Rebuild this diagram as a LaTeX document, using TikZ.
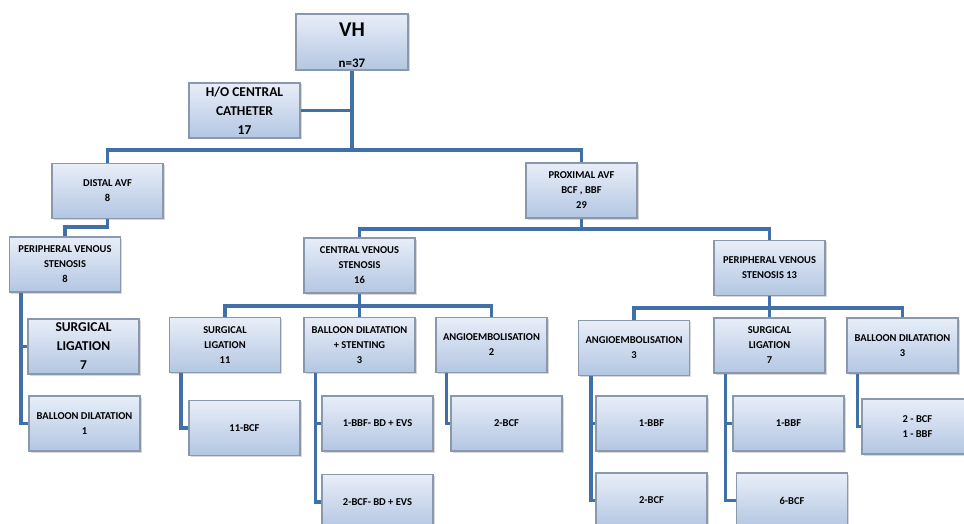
\documentclass[tikz,border=0pt]{standalone}
\usepackage{fontspec}
\setmainfont{Carlito}
\usepackage{tikz}
\usetikzlibrary{calc, shadows}

\definecolor{linkblue}{HTML}{4170A8}
\definecolor{boxtop}{HTML}{E8EEF8}
\definecolor{boxbottom}{HTML}{B3C6E2}
\definecolor{boxedge}{HTML}{8A98AC}

\begin{document}
\begin{tikzpicture}[x=1pt, y=-1pt,
  box/.style={draw=boxedge, line width=1.2pt, top color=boxtop, bottom color=boxbottom,
    minimum width=111pt, minimum height=55pt, inner sep=2pt, align=center,
    font=\fontsize{10.5}{15}\selectfont\bfseries, text=black,
    drop shadow={opacity=0.3, shadow xshift=1.5pt, shadow yshift=-1.5pt}},
  bigbox/.style={box, font=\fontsize{13.5}{19}\selectfont\bfseries},
  boxtext/.style={inner sep=0pt, text=black},
  link/.style={draw=linkblue, line width=3.5pt}]

  \fill[white] (0,0) rectangle (964,524);
  \clip (0,0) rectangle (964,524);

  % top of the tree
  \node[box, minimum width=112pt, minimum height=56pt] (vh) at (352,42) {};
  \node[boxtext, font=\fontsize{21}{24}\selectfont\bfseries] (vhname) at (352,30) {VH};
  \node[boxtext, font=\fontsize{13}{15}\selectfont\bfseries] (vhcount) at (352,63) {n=37};
  \node[bigbox] (cath) at (244.5,110.5) {H/O CENTRAL\\CATHETER\\17};

  \node[box] (distal) at (107.5,191) {DISTAL AVF\\8};
  \node[box] (prox) at (581.5,190.5) {PROXIMAL AVF\\BCF , BBF\\29};

  \node[box] (pvs8) at (65,264.5) {PERIPHERAL VENOUS\\STENOSIS\\8};
  \node[box] (cvs) at (359.5,265.5) {CENTRAL VENOUS\\STENOSIS\\16};
  \node[box] (pvs13) at (769.5,268) {PERIPHERAL VENOUS\\STENOSIS 13};

  % treatments
  \node[bigbox] (slig7) at (83.5,346.5) {SURGICAL\\LIGATION\\7};
  \node[box] (bd1) at (84.5,423.5) {BALLOON DILATATION\\1};
  \node[box] (slig11) at (225,345) {SURGICAL\\LIGATION\\11};
  \node[box] (bds) at (359.5,345) {BALLOON DILATATION\\+ STENTING\\3};
  \node[box] (ang2) at (491.5,345) {ANGIOEMBOLISATION\\2};
  \node[box] (ang3) at (634,348) {ANGIOEMBOLISATION\\3};
  \node[box] (slig7r) at (769.5,345.5) {SURGICAL\\LIGATION\\7};
  \node[box] (bd3) at (902.5,345.5) {BALLOON DILATATION\\3};

  % fistula types
  \node[box] (bcf11) at (244.5,428) {11-BCF};
  \node[box] (bbfbd) at (377.5,423.5) {1-BBF- BD + EVS};
  \node[box] (bcfbd) at (377.5,502) {2-BCF- BD + EVS};
  \node[box] (bcf2) at (506.5,423.5) {2-BCF};
  \node[box] (bbf1a) at (651.5,423.5) {1-BBF};
  \node[box] (bcf2b) at (651.5,500.5) {2-BCF};
  \node[box] (bbf1b) at (788.5,423.5) {1-BBF};
  \node[box] (bcf6) at (792,500.5) {6-BCF};
  \node[box] (mix) at (917.5,426.5) {2 - BCF\\1 - BBF};

  % connectors
  \coordinate (topj) at (352,150);
  \coordinate (distj) at (107.5,227);
  \coordinate (proxj) at (581.5,229);
  \coordinate (cvsj) at (359.5,306);
  \coordinate (pvsj) at (769.5,308);

  \draw[link] (vh.south) -- (topj);
  \draw[link] (cath.east) -- (cath.east -| vh.south);
  \draw[link] (distal.north) |- (topj) -| (prox.north);
  \draw[link] (distal.south) -- (distj) -| (pvs8.north);
  \draw[link] (prox.south) -- (proxj);
  \draw[link] (cvs.north) |- (proxj) -| (pvs13.north);
  \draw[link] (cvs.south) -- (bds.north);
  \draw[link] (slig11.north) |- (cvsj) -| (ang2.north);
  \draw[link] (pvs13.south) -- (slig7r.north);
  \draw[link] (ang3.north) |- (pvsj) -| (bd3.north);

  \draw[link] ($(pvs8.south west)+(12,0)$) |- (slig7.west);
  \draw[link] ($(pvs8.south west)+(12,0)$) |- (bd1.west);
  \draw[link] ($(slig11.south west)+(12,0)$) |- (bcf11.west);
  \draw[link] ($(bds.south west)+(12,0)$) |- (bbfbd.west);
  \draw[link] ($(bds.south west)+(12,0)$) |- (bcfbd.west);
  \draw[link] ($(ang2.south west)+(11,0)$) |- (bcf2.west);
  \draw[link] ($(ang3.south west)+(13,0)$) |- (bbf1a.west);
  \draw[link] ($(ang3.south west)+(13,0)$) |- (bcf2b.west);
  \draw[link] ($(slig7r.south west)+(12,0)$) |- (bbf1b.west);
  \draw[link] ($(slig7r.south west)+(12,0)$) |- (bcf6.west);
  \draw[link] ($(bd3.south west)+(11,0)$) |- (mix.west);
\end{tikzpicture}
\end{document}
